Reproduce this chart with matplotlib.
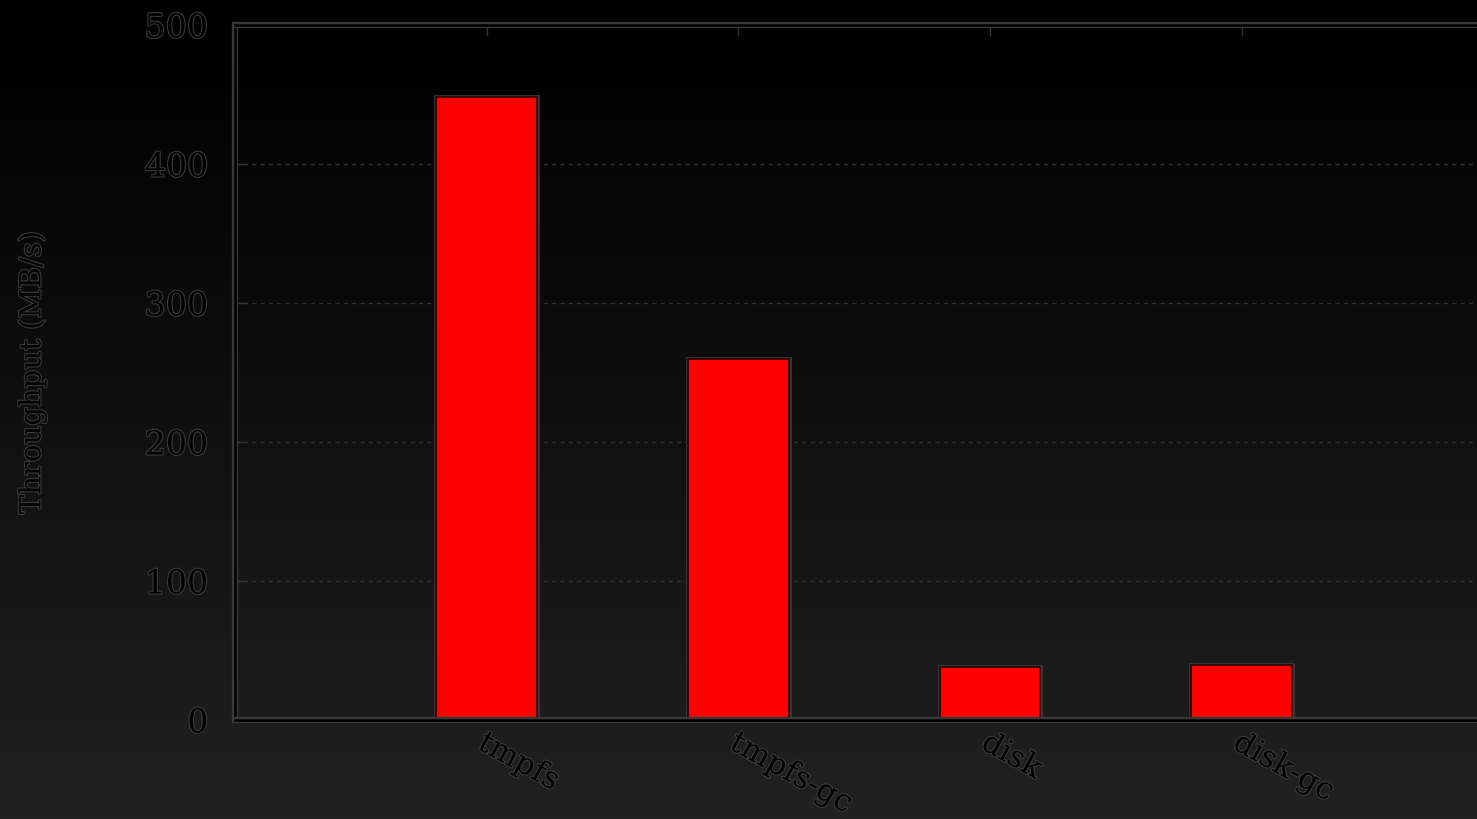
import numpy as np
import matplotlib
matplotlib.use("Agg")
import matplotlib.pyplot as plt
import matplotlib.patheffects as pe

# Throughput per storage configuration
configs = ["tmpfs", "tmpfs-gc", "disk", "disk-gc"]
throughput = [448, 260, 38, 39.5]
y_ticks = [0, 100, 200, 300, 400, 500]

W, H = 1477, 819
fig = plt.figure(figsize=(W / 100, H / 100), dpi=100)

# vertical dark gradient behind everything
bg = fig.add_axes([0, 0, 1, 1], zorder=-10)
g = np.linspace(0.0, 1.0, 256)
shade = (g ** 1.1) * 0x21 / 255.0
col = np.repeat(shade[:, None], 2, axis=1)
bg.imshow(np.dstack([col, col, col]), aspect="auto", extent=[0, 1, 0, 1], origin="upper")
bg.set_axis_off()

outline = [pe.withStroke(linewidth=1.6, foreground="#3a3a3a")]
line_fx = [pe.withStroke(linewidth=4.5, foreground="#383838")]

ax = fig.add_axes([235 / W, 99 / H, 1258.5 / W, 695 / H])
ax.patch.set_alpha(0)

x = np.arange(1, len(configs) + 1)
ax.bar(x, throughput, width=0.4, color="#ff0000", edgecolor="#2a0000", linewidth=1.2,
       zorder=3, path_effects=[pe.withStroke(linewidth=3.5, foreground="#383838")])

ax.set_xlim(0, 5)
ax.set_ylim(0, 500)
ax.set_yticks(y_ticks)
ax.set_xticks(x)
ax.set_xticklabels([])

ax.yaxis.grid(True, linestyle=(0, (3, 3)), color="#333333", linewidth=1.0, zorder=1)
ax.tick_params(axis="y", direction="in", length=8, width=1, colors="#333333", pad=19,
               labelsize=24, labelcolor="black")
ax.tick_params(axis="x", direction="in", length=8, width=1, colors="#333333", top=True,
               bottom=True)

for lbl in ax.get_yticklabels():
    lbl.set_family("DejaVu Serif")
    lbl.set_path_effects(outline)

for sp in ax.spines.values():
    sp.set_color("black")
    sp.set_linewidth(1.8)
    sp.set_path_effects(line_fx)
    sp.set_zorder(4)

for xi, name in zip(x, configs):
    ax.text(xi + 0.005, -5, name, rotation=-29, rotation_mode="anchor",
            ha="left", va="top", fontsize=22, family="DejaVu Serif",
            color="black", path_effects=outline)

fig.text(32 / W, 1 - 373 / H, "Throughput (MB/s)", rotation=90, ha="center", va="center",
         fontsize=21, family="DejaVu Serif", color="black", path_effects=outline)

fig.savefig("out.png", dpi=100, facecolor="black")
